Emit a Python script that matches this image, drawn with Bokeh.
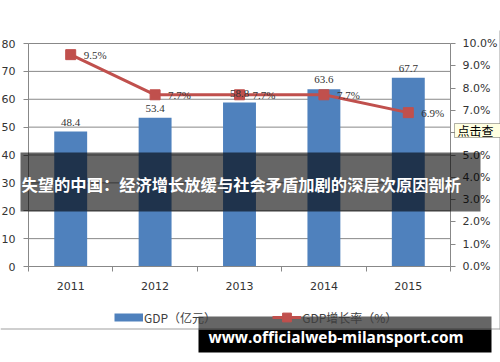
from bokeh.plotting import figure
from bokeh.models import (Range1d, LinearAxis, FixedTicker, BoxAnnotation, Label,
                          Legend, LegendItem, ColumnDataSource, LabelSet, PrintfTickFormatter)
from bokeh.embed import file_html
from bokeh.resources import INLINE

# ---- data ----
years = ["2011", "2012", "2013", "2014", "2015"]
gdp = [48.4, 53.4, 58.8, 63.6, 67.7]
gdp_rate = [9.5, 7.7, 7.7, 7.7, 6.9]
gdp_ticks = [0, 10, 20, 30, 40, 50, 60, 70, 80]
rate_ticks = [0, 1, 2, 3, 4, 5, 6, 7, 8, 9, 10]
legend_labels = ["GDP（亿元）", "GDP增长率（%）"]
title_text = "失望的中国：经济增长放缓与社会矛盾加剧的深层次原因剖析"
watermark_text = "www.officialweb-milansport.com"
tooltip_text = "点击查"

BLUE = "#4F81BD"
RED = "#C0504D"
GRID = "#888888"
TXT = "#333333"

# layout: canvas size and the plot-area edges inside it (px)
W, H = 500, 362
FL, FR, FT, FB = 28, 450, 43, 266

n = len(years)
cw = (FR - FL) / n                                   # px per category
gy = (FB - FT) / (gdp_ticks[-1] - gdp_ticks[0])      # px per GDP unit
ry = (FB - FT) / (rate_ticks[-1] - rate_ticks[0])    # px per rate unit

xpos = [i + 0.5 for i in range(n)]
src = ColumnDataSource(dict(
    x=xpos, gdp=gdp, rate=gdp_rate,
    gdp_lbl=[f"{v:.1f}" for v in gdp],
    rate_lbl=[f"{v:.1f}%" for v in gdp_rate],
))

p = figure(width=W, height=H, output_backend="svg", toolbar_location=None,
           x_axis_location=None, y_axis_location=None,
           x_range=Range1d(-FL / cw, n + (W - FR) / cw),
           y_range=Range1d(gdp_ticks[0] - (H - FB) / gy, gdp_ticks[-1] + FT / gy),
           min_border=0, outline_line_color=None,
           background_fill_color="white", border_fill_color="white")
p.extra_y_ranges = {"rate": Range1d(rate_ticks[0] - (H - FB) / ry, rate_ticks[-1] + FT / ry)}
p.grid.visible = False

# axes pinned to the plot-area edges
xa = LinearAxis(fixed_location=gdp_ticks[0], bounds=(0, n),
                ticker=FixedTicker(ticks=xpos, minor_ticks=list(range(n + 1))))
xa.major_label_overrides = {x: y for x, y in zip(xpos, years)}
xa.major_tick_out = 0
xa.major_tick_in = 0
xa.minor_tick_out = 5
xa.minor_tick_in = 0
xa.minor_tick_line_color = GRID
xa.major_label_standoff = 10
p.add_layout(xa, "below")

ya = LinearAxis(fixed_location=0, bounds=(gdp_ticks[0], gdp_ticks[-1]),
                ticker=FixedTicker(ticks=gdp_ticks))
ya.major_label_standoff = 8
p.add_layout(ya, "left")

ra = LinearAxis(y_range_name="rate", fixed_location=n, bounds=(rate_ticks[0], rate_ticks[-1]),
                ticker=FixedTicker(ticks=rate_ticks),
                formatter=PrintfTickFormatter(format="%.1f%%"))
ra.major_label_standoff = 7
p.add_layout(ra, "right")

for ax in (xa, ya, ra):
    ax.axis_line_color = GRID
    ax.major_tick_line_color = GRID
    ax.major_label_text_font = "DejaVu Sans"
    ax.major_label_text_font_size = "11px"
    ax.major_label_text_color = TXT
for ax in (ya, ra):
    ax.major_tick_out = 5
    ax.major_tick_in = 0
    ax.minor_tick_out = 0
    ax.minor_tick_in = 0

# horizontal grid lines across the plot area
p.segment(x0=[0] * len(gdp_ticks), x1=[n] * len(gdp_ticks), y0=gdp_ticks, y1=gdp_ticks,
          line_color=GRID, line_width=1)

# glyphs
p.vbar(x="x", top="gdp", width=0.39, source=src, fill_color=BLUE, line_color=None)
rate_line = p.line(x="x", y="rate", source=src, y_range_name="rate",
                   line_color=RED, line_width=3)
rate_pts = p.scatter(x="x", y="rate", source=src, y_range_name="rate", marker="square",
                     size=10, fill_color=RED, line_color=RED)

p.add_layout(LabelSet(x="x", y="gdp", text="gdp_lbl", source=src, y_offset=6,
                      text_align="center", text_baseline="bottom",
                      text_font="DejaVu Sans", text_font_size="11px", text_color=TXT))
p.add_layout(LabelSet(x="x", y="rate", text="rate_lbl", source=src, y_range_name="rate",
                      x_offset=13, text_align="left", text_baseline="middle",
                      text_font="DejaVu Sans", text_font_size="11px", text_color=TXT))

# legend: a thick blue line (no visible points) serves as the bar swatch
nan = float("nan")
gdp_swatch = p.line(x=[0, 0], y=[nan, nan], line_color=BLUE, line_width=8)
legend = Legend(items=[LegendItem(label=legend_labels[0], renderers=[gdp_swatch]),
                       LegendItem(label=legend_labels[1], renderers=[rate_line, rate_pts])],
                location=(114, H - 328), orientation="horizontal",
                glyph_width=29, glyph_height=22, label_standoff=1, spacing=56,
                padding=0, margin=0, border_line_color=None, background_fill_alpha=0,
                label_text_font="Noto Sans CJK SC", label_text_font_size="12px",
                label_text_color="#404040", label_height=22)
p.add_layout(legend)


def canvas_box(l, r, t, b, **kw):
    return BoxAnnotation(left=l, right=r, top=t, bottom=b,
                         left_units="canvas", right_units="canvas",
                         top_units="canvas", bottom_units="canvas", **kw)


# image frame edges
p.add_layout(canvas_box(0, 500, 328, 329, fill_color="#A0A0A0", fill_alpha=1, line_color=None))
p.add_layout(canvas_box(499, 500, 30, 329, fill_color="#A0A0A0", fill_alpha=1, line_color=None))

# tooltip box
p.add_layout(canvas_box(454, 503, 123, 137, fill_color="#FFFFE1", fill_alpha=1,
                        line_color="black", line_width=1))
p.add_layout(Label(x=457, y=130, x_units="canvas", y_units="canvas", text=tooltip_text,
                   text_baseline="middle", text_font="Noto Sans CJK SC",
                   text_font_size="12px", text_color="black"))

# banner
p.add_layout(canvas_box(20, 480, 152, 211, fill_color="black", fill_alpha=0.6, line_color=None))
p.add_layout(Label(x=21, y=183, x_units="canvas", y_units="canvas", text=title_text,
                   text_baseline="middle", text_font="Noto Sans CJK SC",
                   text_font_style="bold", text_font_size="16.3px", text_color="white"))

# watermark
p.add_layout(canvas_box(198, 491, 316, 329, fill_color="black", fill_alpha=0.6, line_color=None))
p.add_layout(canvas_box(198, 491, 329, 352, fill_color="black", fill_alpha=1, line_color=None))
p.add_layout(Label(x=208, y=337, x_units="canvas", y_units="canvas", text=watermark_text,
                   text_baseline="middle", text_font="Open Sans",
                   text_font_style="bold", text_font_size="15.4px", text_color="white"))

html = file_html(p, INLINE)
html = html.replace("</head>", "<style>html,body{margin:0;padding:0;overflow:hidden;}</style></head>", 1)
open("out.html", "w").write(html)
